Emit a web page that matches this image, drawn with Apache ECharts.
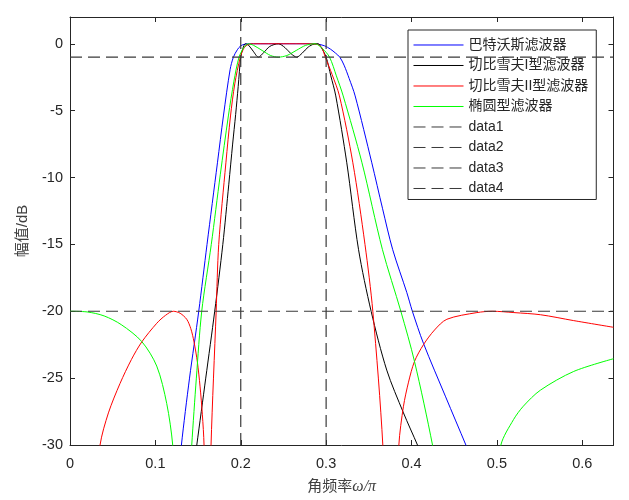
<!DOCTYPE html>
<html><head><meta charset="utf-8">
<script src="https://cdn.jsdelivr.net/npm/echarts@6/dist/echarts.min.js"></script>
<style>html,body{margin:0;padding:0;background:#fff}#c{width:629px;height:500px}</style>
</head><body><div id="c"></div>
<script>
// ---- data ----
const seriesNames = ['巴特沃斯滤波器', '切比雪夫I型滤波器', '切比雪夫II型滤波器', '椭圆型滤波器'];
const refNames = ['data1', 'data2', 'data3', 'data4'];
const xTicks = [0, 0.1, 0.2, 0.3, 0.4, 0.5, 0.6];
const yTicks = [-30, -25, -20, -15, -10, -5, 0];

// [omega/pi, dB]
const butterworth = [[0.118,-38],[0.1305,-30],[0.140,-25],[0.1508,-20],[0.1605,-15],[0.1727,-8.9],[0.1797,-5.4],[0.1875,-1.94],[0.1914,-1.0],[0.196,-0.45],[0.200,-0.15],[0.205,-0.03],[0.215,0],[0.25,0],[0.28,0],[0.29,-0.03],[0.298,-0.15],[0.305,-0.4],[0.311,-0.7],[0.316,-1.0],[0.321,-1.6],[0.327,-2.6],[0.334,-3.9],[0.3535,-8.9],[0.366,-12.3],[0.378,-15.4],[0.3945,-18.6],[0.401,-20],[0.414,-22.4],[0.44,-26.4],[0.4637,-30],[0.48,-32.5]];
const chebyshev1 = [[0.142,-33],[0.1485,-30],[0.159,-25],[0.1695,-20],[0.179,-15],[0.186,-10.5],[0.1905,-7.5],[0.194,-5.3],[0.197,-3.2],[0.200,-1.0],[0.2025,-0.35],[0.2055,0],[0.209,-0.1],[0.2145,-0.55],[0.2207,-1.0],[0.227,-0.65],[0.234,-0.2],[0.244,0],[0.252,-0.3],[0.259,-0.75],[0.2656,-1.0],[0.272,-0.7],[0.279,-0.25],[0.286,-0.02],[0.2905,0],[0.2945,-0.3],[0.300,-1.0],[0.3055,-2.4],[0.3113,-3.9],[0.3242,-8.9],[0.338,-15.4],[0.3527,-20],[0.371,-24.4],[0.3906,-27.6],[0.407,-30],[0.42,-32]];
const chebyshev2 = [[0.028,-35],[0.0352,-30],[0.045,-27.6],[0.0586,-25.4],[0.072,-23.6],[0.084,-22.3],[0.1016,-20.9],[0.112,-20.3],[0.121,-20],[0.129,-20.15],[0.1367,-20.6],[0.1415,-21.3],[0.1453,-22.3],[0.1492,-23.8],[0.1523,-25.6],[0.155,-27.7],[0.157,-30],[0.161,-42],[0.1652,-30],[0.1712,-20],[0.1742,-15],[0.1826,-8.9],[0.188,-5.4],[0.193,-3],[0.1995,-1],[0.204,-0.3],[0.209,-0.05],[0.215,0],[0.28,0],[0.29,-0.05],[0.295,-0.3],[0.299,-1],[0.307,-2.3],[0.3156,-3.9],[0.3313,-8.9],[0.3455,-15],[0.3547,-20],[0.3664,-30],[0.3758,-45],[0.3852,-30],[0.3906,-27.1],[0.3965,-25.3],[0.4035,-23.75],[0.414,-22.5],[0.427,-21.4],[0.4414,-20.6],[0.4766,-20.1],[0.495,-20],[0.52,-20.1],[0.551,-20.26],[0.59,-20.7],[0.6366,-21.2]];
const elliptic = [[0,-20],[0.02,-20.05],[0.04,-20.35],[0.06,-21.0],[0.084,-22.26],[0.1016,-24.1],[0.1133,-26.9],[0.1203,-30],[0.126,-36],[0.131,-42],[0.137,-36],[0.1426,-30],[0.148,-25],[0.1543,-20],[0.1655,-15],[0.176,-9.8],[0.1855,-5.4],[0.192,-2.8],[0.198,-1.0],[0.2035,-0.3],[0.209,0],[0.215,-0.12],[0.225,-0.5],[0.235,-0.88],[0.244,-1.0],[0.254,-0.88],[0.265,-0.5],[0.276,-0.12],[0.287,0],[0.2955,-0.35],[0.304,-1.0],[0.312,-2.4],[0.320,-3.9],[0.342,-8.9],[0.366,-15.4],[0.3875,-20],[0.4035,-23.75],[0.4246,-30],[0.435,-34],[0.445,-40],[0.49,-40],[0.498,-34],[0.5047,-30],[0.5195,-28.1],[0.531,-27.1],[0.551,-25.9],[0.59,-24.5],[0.6366,-23.55]];

const xMax = 0.6366, xMin = 0;
const yMin = -30, yMax = 2;
const refLines = [
  [[xMin, -1], [xMax, -1]],
  [[xMin, -20], [xMax, -20]],
  [[0.2, yMin], [0.2, yMax]],
  [[0.3, yMin], [0.3, yMax]]
];
const curves = [butterworth, chebyshev1, chebyshev2, elliptic];
const colors = ['#0000ff', '#000000', '#ff0000', '#00ff00'];

// ---- chart ----
const txt = '#262626';
const font = "'Liberation Sans', 'Noto Sans CJK SC', sans-serif";
const chart = echarts.init(document.getElementById('c'), null, {renderer: 'canvas'});
const series = [];
curves.forEach((d, i) => series.push({
  name: seriesNames[i], type: 'line', data: d, symbol: 'none', smooth: 0.3, clip: true,
  lineStyle: {color: colors[i], width: 1}, itemStyle: {color: colors[i]}, z: 2 + i
}));
refLines.forEach((d, i) => series.push({
  name: refNames[i], type: 'line', data: d, symbol: 'none', clip: true,
  lineStyle: {color: '#3a3a3a', width: 1.2, type: [12, 6]}, itemStyle: {color: '#3a3a3a'}, z: 10
}));

const xLabel = v => {
  const k = Math.round(v * 10);
  return Math.abs(v * 10 - k) < 1e-6 && xTicks.includes(k / 10) ? String(k / 10) : '';
};
const yLabel = v => yTicks.includes(v) ? String(v) : '';

chart.setOption({
  animation: false,
  backgroundColor: '#ffffff',
  grid: {left: 70, right: 15.5, top: 17, bottom: 55, containLabel: false},
  legend: {
    orient: 'vertical', left: 408, top: 30,
    data: seriesNames.concat(refNames),
    itemWidth: 50, itemHeight: 14, itemGap: 6.5,
    padding: [8, 8, 4, 5],
    itemStyle: {opacity: 0},
    lineStyle: {width: 1},
    backgroundColor: '#ffffff', borderColor: txt, borderWidth: 1,
    textStyle: {color: txt, fontSize: 14, fontFamily: font}
  },
  xAxis: [{
    type: 'value', min: xMin, max: xMax, interval: 0.1, position: 'bottom',
    axisLine: {show: true, onZero: false, lineStyle: {color: txt, width: 1}},
    axisTick: {show: true, inside: true, length: 5, lineStyle: {color: txt}},
    axisLabel: {color: txt, fontSize: 14.5, fontFamily: font, margin: 12, formatter: xLabel, showMaxLabel: false},
    splitLine: {show: false},
    name: '角频率{it|ω/π}', nameLocation: 'middle', nameGap: 34,
    nameTextStyle: {color: '#404040', fontSize: 15, fontFamily: font,
      rich: {it: {fontStyle: 'italic', fontFamily: "'Liberation Serif', serif", fontSize: 16, color: '#404040'}}}
  }, {
    type: 'value', min: xMin, max: xMax, interval: 0.1, position: 'top',
    axisLine: {show: true, onZero: false, lineStyle: {color: txt, width: 1}},
    axisTick: {show: true, inside: true, length: 5, lineStyle: {color: txt}},
    axisLabel: {show: false}, splitLine: {show: false}
  }],
  yAxis: [{
    type: 'value', min: yMin, max: yMax, interval: 5, position: 'left',
    axisLine: {show: true, onZero: false, lineStyle: {color: txt, width: 1}},
    axisTick: {show: true, inside: true, length: 5, lineStyle: {color: txt}},
    axisLabel: {color: txt, fontSize: 14.5, fontFamily: font, margin: 7, formatter: yLabel, showMaxLabel: false},
    splitLine: {show: false},
    name: '幅值/dB', nameLocation: 'middle', nameGap: 40, nameRotate: 90,
    nameTextStyle: {color: '#404040', fontSize: 15, fontFamily: font}
  }, {
    type: 'value', min: yMin, max: yMax, interval: 5, position: 'right',
    axisLine: {show: true, onZero: false, lineStyle: {color: txt, width: 1}},
    axisTick: {show: true, inside: true, length: 5, lineStyle: {color: txt}},
    axisLabel: {show: false}, splitLine: {show: false}
  }],
  series: series
});
</script>
</body></html>
